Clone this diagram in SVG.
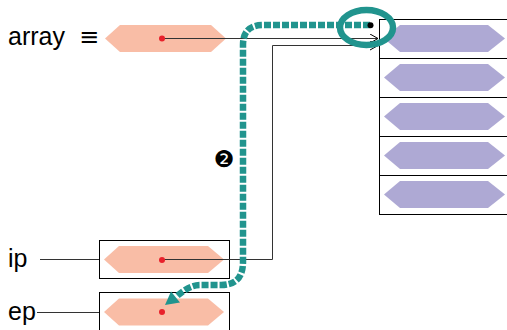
<svg xmlns="http://www.w3.org/2000/svg" width="507" height="330" viewBox="0 0 507 330">
<defs>
<style>
.lbl{font-family:"Liberation Sans",Arial,sans-serif;font-size:25px;fill:#000}
.salmon{fill:#f9bda6}
.purple{fill:#aea9d4}
.box{fill:none;stroke:#000;stroke-width:1}
.ptr{fill:none;stroke:#333;stroke-width:1}
.dot{fill:#e8212b}
.teal{fill:none;stroke:#21948e;stroke-width:6.5}
</style>
<marker id="arr" markerWidth="10" markerHeight="10" refX="9" refY="5" orient="auto" markerUnits="userSpaceOnUse">
<path d="M1,0.5 L9,5 L1,9.5" fill="none" stroke="#000" stroke-width="1"/>
</marker>
</defs>
<rect width="507" height="330" fill="#fff"/>

<g id="array-var">
<text class="lbl" x="8" y="45">array</text>
<text x="79" y="45" style="font-family:'DejaVu Sans',sans-serif;font-size:24px">≡</text>
<polygon class="salmon" points="105,38.5 120,25 211,25 226,38.5 211,52 120,52"/>
</g>

<g id="array-block">
<rect class="box" x="379.5" y="19.5" width="140" height="195"/>
<line class="box" x1="379.5" y1="58.5" x2="507" y2="58.5"/>
<line class="box" x1="379.5" y1="97.5" x2="507" y2="97.5"/>
<line class="box" x1="379.5" y1="136.5" x2="507" y2="136.5"/>
<line class="box" x1="379.5" y1="175.5" x2="507" y2="175.5"/>
<polygon class="purple" points="384,38.5 400,25 488,25 505,38.5 488,52 400,52"/>
<polygon class="purple" points="384,77.5 400,64 488,64 505,77.5 488,91 400,91"/>
<polygon class="purple" points="384,116.5 400,103 488,103 505,116.5 488,130 400,130"/>
<polygon class="purple" points="384,155.5 400,142 488,142 505,155.5 488,169 400,169"/>
<polygon class="purple" points="384,194.5 400,181 488,181 505,194.5 488,208 400,208"/>
</g>

<g id="ip">
<text class="lbl" x="8" y="267">ip</text>
<line class="ptr" x1="40" y1="259.5" x2="99" y2="259.5"/>
<rect class="box" x="99.5" y="240.5" width="130" height="38"/>
<polygon class="salmon" points="104,259.5 119,246 208,246 224,259.5 208,273 119,273"/>
</g>

<g id="ep">
<text class="lbl" x="8" y="320">ep</text>
<line class="ptr" x1="37" y1="312.5" x2="99" y2="312.5"/>
<rect class="box" x="99.5" y="292.5" width="130" height="40"/>
<polygon class="salmon" points="104,312 119,298.5 208,298.5 224,312 208,325.5 119,325.5"/>
</g>

<g id="connectors">
<path class="ptr" d="M162,38.5 H378" marker-end="url(#arr)"/>
<path class="ptr" d="M162,259.5 H272.5 V45.5 H378" marker-end="url(#arr)"/>
<circle class="dot" cx="162" cy="38.5" r="3"/>
<circle class="dot" cx="162" cy="260" r="3"/>
<circle class="dot" cx="162" cy="312" r="3"/>
<path class="teal" stroke-dasharray="7 2" d="M370,25 H263 Q243,25 243,45 V262 Q243,285 221,285 H200 Q189,285 176,297"/>
<polygon fill="#21948e" points="165,305 171,291.5 180,302.5"/>
<ellipse class="teal" cx="366.5" cy="27.5" rx="26.5" ry="17.5"/>
<circle cx="370.5" cy="25.3" r="3" fill="#000"/>
</g>

<text x="224" y="167" text-anchor="middle" style="font-family:'DejaVu Sans',sans-serif;font-size:23px">❷</text>
</svg>
